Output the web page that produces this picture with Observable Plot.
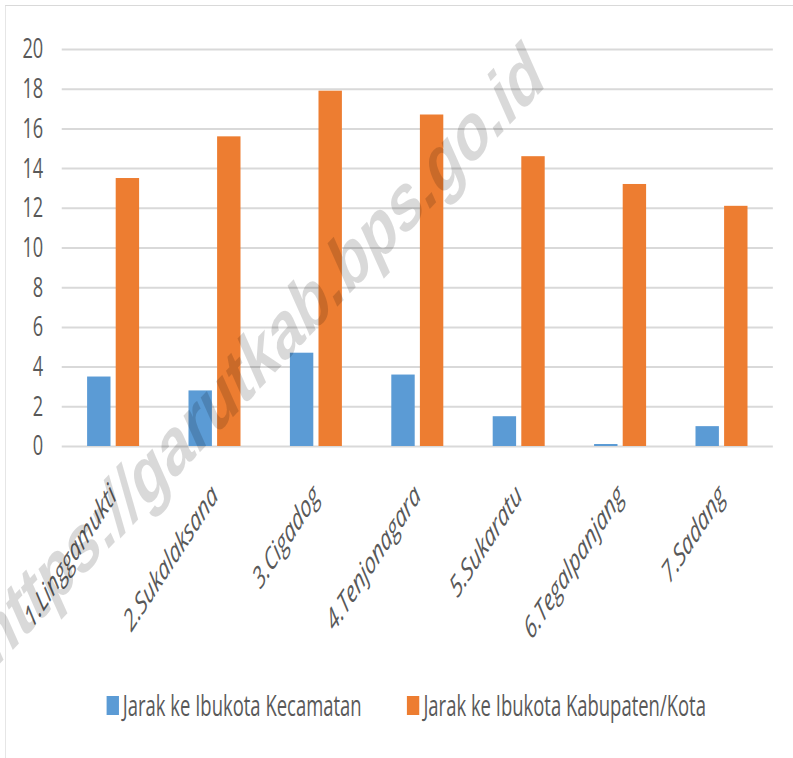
<!DOCTYPE html>
<html>
<head>
<meta charset="utf-8">
<script src="https://cdn.jsdelivr.net/npm/d3@7"></script>
<script src="https://cdn.jsdelivr.net/npm/@observablehq/plot@0.6"></script>
<style>
  html, body { margin: 0; padding: 0; background: #fff; }
  body { width: 793px; height: 758px; position: relative; overflow: hidden; }
  /* the reference is horizontally condensed: draw at 1220px wide and squeeze to 793px */
  #wrap { position: absolute; left: 0; top: 0; width: 1220px; height: 758px;
          transform: scaleX(0.65); transform-origin: 0 0; }
  #frame { position: absolute; left: 8px; top: 5px; width: 1260px; height: 760px;
           border-left: 1px solid #d9d9d9; border-top: 1px solid #d9d9d9; box-sizing: border-box; pointer-events: none; }
  #chart { position: relative; }
  #legend { position: relative; left: 15px; top: -3px; display: flex; justify-content: center; align-items: center;
            height: 24px; width: 1220px; white-space: nowrap;
            font-family: "Open Sans", sans-serif; font-size: 28.4px; color: #595959; }
  .item { display: flex; align-items: center; flex-shrink: 0; }
  .item + .item { margin-left: 70px; }
  .sw { width: 19px; height: 19px; margin-right: 6px; flex-shrink: 0; }
  #wm { position: absolute; left: 400px; top: 354px;
        transform: translate(-50%, -50%) rotate(-34.5deg);
        font-family: "Liberation Sans", Arial, sans-serif; font-weight: bold; font-size: 84px;
        color: rgba(0,0,0,0.15); white-space: nowrap; pointer-events: none; }
</style>
</head>
<body>
<div id="wrap">
  <div id="chart"></div>
  <div id="legend"></div>
  <div id="frame"></div>
  <div id="wm">https://garutkab.bps.go.id</div>
</div>
<script>
const categories = ["1.Linggamukti", "2.Sukalaksana", "3.Cigadog", "4.Tenjonagara", "5.Sukaratu", "6.Tegalpanjang", "7.Sadang"];
const kecamatan = [3.5, 2.8, 4.7, 3.6, 1.5, 0.1, 1.0];
const kabupaten = [13.5, 15.6, 17.9, 16.7, 14.6, 13.2, 12.1];
const seriesNames = ["Jarak ke Ibukota Kecamatan", "Jarak ke Ibukota Kabupaten/Kota"];
const seriesColors = ["#5B9BD5", "#ED7D31"];
const yTicks = [0, 2, 4, 6, 8, 10, 12, 14, 16, 18, 20];

const dataKec = categories.map((c, i) => ({cat: c, value: kecamatan[i]}));
const dataKab = categories.map((c, i) => ({cat: c, value: kabupaten[i]}));

const plot = Plot.plot({
  width: 1220,
  height: 696,
  marginLeft: 95,
  marginRight: 31,
  marginTop: 49,
  marginBottom: 250,
  style: {overflow: "visible"},
  x: {domain: categories, paddingInner: 0.49, paddingOuter: 0.245},
  y: {domain: [0, 20]},
  marks: [
    Plot.ruleY(yTicks, {stroke: "#d9d9d9", strokeWidth: 2}),
    Plot.barY(dataKec, {x: "cat", y: "value", fill: seriesColors[0], insetRight: 44}),
    Plot.barY(dataKab, {x: "cat", y: "value", fill: seriesColors[1], insetLeft: 44}),
    Plot.axisY({ticks: yTicks, tickSize: 0, tickPadding: 29, fontSize: 28, fill: "#595959",
                fontFamily: "'Open Sans', sans-serif", label: null}),
    Plot.axisX({tickRotate: -45, tickSize: 0, tickPadding: 44, fontSize: 30, fill: "#595959",
                fontStyle: "italic", fontFamily: "'Open Sans', sans-serif", label: null})
  ]
});
document.getElementById("chart").appendChild(plot);

const legend = document.getElementById("legend");
seriesNames.forEach((name, i) => {
  const item = document.createElement("div");
  item.className = "item";
  const sw = document.createElement("span");
  sw.className = "sw";
  sw.style.background = seriesColors[i];
  const t = document.createElement("span");
  t.textContent = name;
  item.appendChild(sw);
  item.appendChild(t);
  legend.appendChild(item);
});
</script>
</body>
</html>
